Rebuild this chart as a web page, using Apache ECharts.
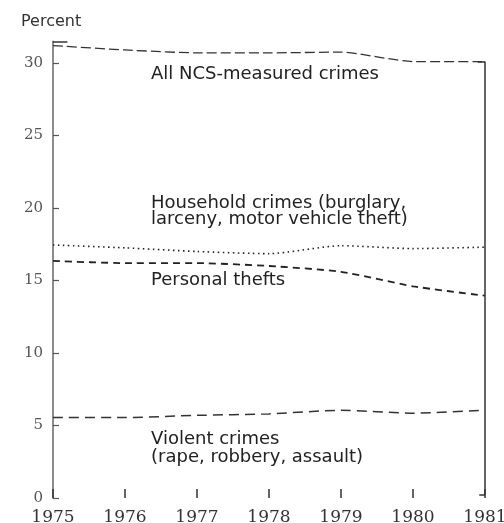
<!DOCTYPE html>
<html>
<head>
<meta charset="utf-8">
<script src="https://cdn.jsdelivr.net/npm/echarts@6/dist/echarts.min.js"></script>
<style>
  html, body { margin: 0; padding: 0; background: #fff; }
  #chart { width: 504px; height: 523px; }
</style>
</head>
<body>
<div id="chart"></div>
<script>
// values (percent of households)
const years = [1975, 1976, 1977, 1978, 1979, 1980, 1981];
const allCrimes = [31.2, 30.9, 30.7, 30.7, 30.75, 30.1, 30.1];
const householdCrimes = [17.45, 17.25, 17.0, 16.85, 17.4, 17.2, 17.3];
const personalThefts = [16.35, 16.2, 16.2, 16.0, 15.6, 14.6, 13.95];
const violentCrimes = [5.55, 5.55, 5.7, 5.8, 6.05, 5.85, 6.05];
const yTicks = [0, 5, 10, 15, 20, 25, 30];

const ink = '#222';
const sans = '"DejaVu Sans", sans-serif';
const serif = '"DejaVu Serif", serif';

function pairs(vals) {
  return vals.map((v, i) => [years[i], v]);
}

const chart = echarts.init(document.getElementById('chart'));

const option = {
  animation: false,
  grid: { left: 53, right: 19, top: 41.25, bottom: 25, outerBoundsMode: 'none', containLabel: false },
  xAxis: {
    type: 'value',
    min: years[0],
    max: years[years.length - 1],
    interval: 1,
    axisLine: { show: false },
    axisTick: { show: true, inside: true, length: 9, lineStyle: { color: '#333', width: 1.5 } },
    splitLine: { show: false },
    axisLabel: {
      margin: 11,
      fontFamily: serif,
      fontSize: 17,
      color: '#333',
      formatter: v => String(v)
    }
  },
  yAxis: {
    type: 'value',
    min: 0,
    max: 31.5,
    interval: 5,
    axisLine: { show: true, lineStyle: { color: '#666', width: 1.5 } },
    axisTick: { show: true, inside: true, length: 6, lineStyle: { color: '#555', width: 1.2 } },
    splitLine: { show: false },
    axisLabel: {
      showMaxLabel: false,
      margin: 10,
      fontFamily: serif,
      fontSize: 15,
      color: '#555',
      formatter: v => yTicks.indexOf(v) >= 0 ? String(v) : ''
    }
  },
  series: [
    {
      name: 'All NCS-measured crimes',
      type: 'line',
      data: pairs(allCrimes),
      symbol: 'none',
      smooth: 0.2,
      lineStyle: { color: '#333', width: 1.3, type: [10, 4] },
      markLine: {
        silent: true,
        symbol: 'none',
        label: { show: false },
        lineStyle: { color: '#333', width: 1.5, type: 'solid' },
        data: [
          [{ coord: [1981, 0.2] }, { coord: [1981, 30.1] }],
          [{ coord: [1980.9, 30.1] }, { coord: [1981, 30.1] }],
          [{ coord: [1980.92, 0.2] }, { coord: [1981, 0.2] }],
          [{ coord: [1975, 31.5] }, { coord: [1975.2, 31.5] }]
        ]
      }
    },
    {
      name: 'Household crimes',
      type: 'line',
      data: pairs(householdCrimes),
      symbol: 'none',
      smooth: 0.2,
      lineStyle: { color: ink, width: 1.6, type: [1.5, 3.5] }
    },
    {
      name: 'Personal thefts',
      type: 'line',
      data: pairs(personalThefts),
      symbol: 'none',
      smooth: 0.2,
      lineStyle: { color: ink, width: 1.8, type: [7, 5] }
    },
    {
      name: 'Violent crimes',
      type: 'line',
      data: pairs(violentCrimes),
      symbol: 'none',
      smooth: 0.2,
      lineStyle: { color: '#333', width: 1.5, type: [10, 6] }
    }
  ],
  graphic: [
    { type: 'text', x: 21, y: 22, style: { text: 'Percent', font: '16px ' + sans, fill: '#333', verticalAlign: 'middle' } },
    { type: 'text', x: 151, y: 74, style: { text: 'All NCS-measured crimes', font: '18px ' + sans, fill: ink, verticalAlign: 'middle' } },
    { type: 'text', x: 151, y: 203, style: { text: 'Household crimes (burglary,', font: '18px ' + sans, fill: ink, verticalAlign: 'middle' } },
    { type: 'text', x: 151, y: 219, style: { text: 'larceny, motor vehicle theft)', font: '18px ' + sans, fill: ink, verticalAlign: 'middle' } },
    { type: 'text', x: 151, y: 280, style: { text: 'Personal thefts', font: '18px ' + sans, fill: ink, verticalAlign: 'middle' } },
    { type: 'text', x: 151, y: 439, style: { text: 'Violent crimes', font: '18px ' + sans, fill: ink, verticalAlign: 'middle' } },
    { type: 'text', x: 151, y: 457, style: { text: '(rape, robbery, assault)', font: '18px ' + sans, fill: ink, verticalAlign: 'middle' } }
  ]
};

chart.setOption(option);
</script>
</body>
</html>
